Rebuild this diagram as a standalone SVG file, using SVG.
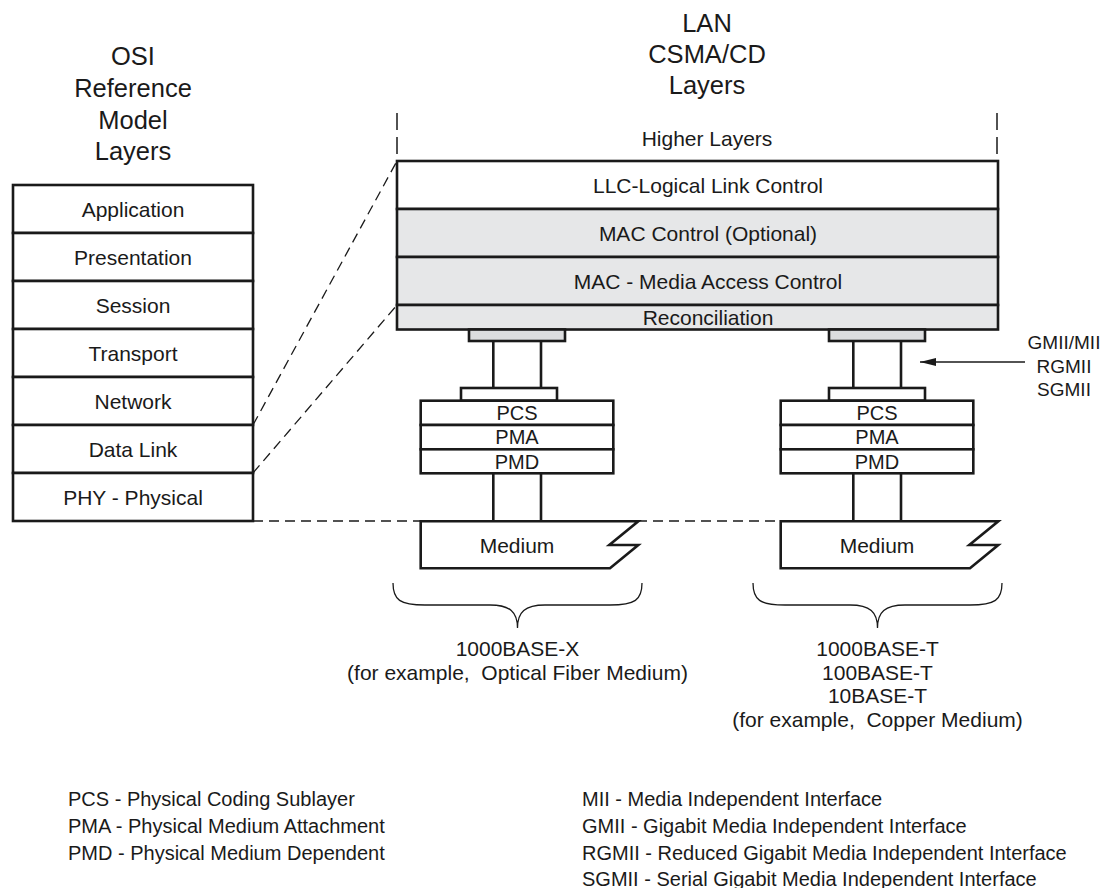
<svg xmlns="http://www.w3.org/2000/svg" width="1112" height="888" viewBox="0 0 1112 888">
<defs>
<style>
text{font-family:"Liberation Sans",Arial,Helvetica,sans-serif;fill:#1a1a1a;text-anchor:middle}
.h{font-size:25.5px}
.b{font-size:21px}
.s{font-size:20px}
.g{font-size:19px}
.l{font-size:20px;text-anchor:start}
.pre{white-space:pre}
.box{fill:#fff;stroke:#1a1a1a;stroke-width:2.6}
.gray{fill:#e6e7e8;stroke:#1a1a1a;stroke-width:2.6}
.tab{fill:#dcdddf;stroke:#1a1a1a;stroke-width:2.6}
.thick{stroke:#1a1a1a;stroke-width:2.6;fill:none}
.dash{stroke:#1a1a1a;stroke-width:1.3;fill:none;stroke-dasharray:10 6}
.vdash{stroke:#1a1a1a;stroke-width:1.5;fill:none;stroke-dasharray:17 7}
.thin{stroke:#1a1a1a;stroke-width:1.3;fill:none}
</style>
<marker id="arr" viewBox="0 0 16 8" refX="16" refY="4" markerWidth="16" markerHeight="8" markerUnits="userSpaceOnUse" orient="auto-start-reverse">
<path d="M0,0 L16,4 L0,8 Z" fill="#1a1a1a"/>
</marker>
</defs>
<rect width="1112" height="888" fill="#fff"/>

<g id="headings">
<text class="h" x="133" y="65">OSI</text>
<text class="h" x="133" y="97">Reference</text>
<text class="h" x="133" y="129">Model</text>
<text class="h" x="133" y="160">Layers</text>
<text class="h" x="707" y="32">LAN</text>
<text class="h" x="707" y="63">CSMA/CD</text>
<text class="h" x="707" y="94">Layers</text>
</g>

<g id="connectors">
<line class="dash" x1="253" y1="425" x2="397" y2="161"/>
<line class="dash" x1="253" y1="473" x2="397" y2="305"/>
<line class="dash" x1="253" y1="521" x2="781" y2="521"/>
<line class="vdash" x1="397" y1="113" x2="397" y2="161"/>
<line class="vdash" x1="997" y1="113" x2="997" y2="161"/>
<line class="thin" x1="1025" y1="362" x2="920" y2="362" marker-end="url(#arr)"/>
</g>

<g id="osi-stack">
<g id="osi-application"><rect class="box" x="13" y="185" width="240" height="48"/><text class="b" x="133" y="216.5">Application</text></g>
<g id="osi-presentation"><rect class="box" x="13" y="233" width="240" height="48"/><text class="b" x="133" y="264.5">Presentation</text></g>
<g id="osi-session"><rect class="box" x="13" y="281" width="240" height="48"/><text class="b" x="133" y="312.5">Session</text></g>
<g id="osi-transport"><rect class="box" x="13" y="329" width="240" height="48"/><text class="b" x="133" y="360.5">Transport</text></g>
<g id="osi-network"><rect class="box" x="13" y="377" width="240" height="48"/><text class="b" x="133" y="408.5">Network</text></g>
<g id="osi-datalink"><rect class="box" x="13" y="425" width="240" height="48"/><text class="b" x="133" y="456.5">Data Link</text></g>
<g id="osi-physical"><rect class="box" x="13" y="473" width="240" height="48"/><text class="b" x="133" y="504.5">PHY - Physical</text></g>
</g>

<g id="lan-stack">
<text class="b" x="707" y="146">Higher Layers</text>
<g id="llc"><rect class="box" x="397" y="161" width="601" height="48"/><text class="b" x="708" y="192.5">LLC-Logical Link Control</text></g>
<g id="mac-control"><rect class="gray" x="397" y="209" width="601" height="48"/><text class="b" x="708" y="240.5">MAC Control (Optional)</text></g>
<g id="mac"><rect class="gray" x="397" y="257" width="601" height="48"/><text class="b" x="708" y="288.5">MAC - Media Access Control</text></g>
<g id="reconciliation"><rect class="gray" x="397" y="305" width="601" height="24.5"/><text class="b" x="708" y="324.5">Reconciliation</text></g>
</g>

<g id="phy-left">
<rect class="tab" x="469" y="329.5" width="96" height="11.5"/>
<line class="thick" x1="493.3" y1="341" x2="493.3" y2="388"/>
<line class="thick" x1="541" y1="341" x2="541" y2="388"/>
<rect class="box" x="461" y="388" width="96" height="12.7"/>
<g id="pcs-left"><rect class="box" x="420.7" y="400.7" width="192.6" height="24.3"/><text class="s" x="517" y="420">PCS</text></g>
<g id="pma-left"><rect class="box" x="420.7" y="425" width="192.6" height="24.3"/><text class="s" x="517" y="444.3">PMA</text></g>
<g id="pmd-left"><rect class="box" x="420.7" y="449.3" width="192.6" height="24"/><text class="s" x="517" y="468.5">PMD</text></g>
<line class="thick" x1="493.3" y1="473.3" x2="493.3" y2="521.3"/>
<line class="thick" x1="541" y1="473.3" x2="541" y2="521.3"/>
<g id="medium-left"><path class="box" d="M420.7,521.3 L638.3,521.3 L609.3,545 L638.3,545 L610,568.3 L420.7,568.3 Z"/><text class="b" x="517" y="553">Medium</text></g>
</g>

<g id="phy-right">
<rect class="tab" x="829" y="329.5" width="96" height="11.5"/>
<line class="thick" x1="853.3" y1="341" x2="853.3" y2="388"/>
<line class="thick" x1="901" y1="341" x2="901" y2="388"/>
<rect class="box" x="829" y="388" width="96" height="12.7"/>
<g id="pcs-right"><rect class="box" x="780.7" y="400.7" width="192.6" height="24.3"/><text class="s" x="877" y="420">PCS</text></g>
<g id="pma-right"><rect class="box" x="780.7" y="425" width="192.6" height="24.3"/><text class="s" x="877" y="444.3">PMA</text></g>
<g id="pmd-right"><rect class="box" x="780.7" y="449.3" width="192.6" height="24"/><text class="s" x="877" y="468.5">PMD</text></g>
<line class="thick" x1="853.3" y1="473.3" x2="853.3" y2="521.3"/>
<line class="thick" x1="901" y1="473.3" x2="901" y2="521.3"/>
<g id="medium-right"><path class="box" d="M780.7,521.3 L998.3,521.3 L969.3,545 L998.3,545 L970,568.3 L780.7,568.3 Z"/><text class="b" x="877" y="553">Medium</text></g>
</g>

<g id="interface-label">
<text class="g" x="1064" y="349">GMII/MII</text>
<text class="g" x="1064" y="372.7">RGMII</text>
<text class="g" x="1064" y="396">SGMII</text>
</g>

<g id="brace-left">
<path class="thin" d="M393,583 C393,600 400,605 425,605 L490,605 C510,605 517.5,612 517.5,628 C517.5,612 525,605 545,605 L610,605 C635,605 642,600 642,583"/>
<text class="b" x="517.5" y="656">1000BASE-X</text>
<text class="b pre" x="517.5" y="679.5" xml:space="preserve">(for example,  Optical Fiber Medium)</text>
</g>

<g id="brace-right">
<path class="thin" d="M753,583 C753,600 760,605 785,605 L850,605 C870,605 877.5,612 877.5,628 C877.5,612 885,605 905,605 L970,605 C995,605 1002,600 1002,583"/>
<text class="b" x="877.5" y="656">1000BASE-T</text>
<text class="b" x="877.5" y="679.5">100BASE-T</text>
<text class="b" x="877.5" y="703">10BASE-T</text>
<text class="b pre" x="877.5" y="726.5" xml:space="preserve">(for example,  Copper Medium)</text>
</g>

<g id="legend-left">
<text class="l" x="68" y="806">PCS - Physical Coding Sublayer</text>
<text class="l" x="68" y="833">PMA - Physical Medium Attachment</text>
<text class="l" x="68" y="860">PMD - Physical Medium Dependent</text>
</g>

<g id="legend-right">
<text class="l" x="582" y="806">MII - Media Independent Interface</text>
<text class="l" x="582" y="833">GMII - Gigabit Media Independent Interface</text>
<text class="l" x="582" y="860">RGMII - Reduced Gigabit Media Independent Interface</text>
<text class="l" x="582" y="886">SGMII - Serial Gigabit Media Independent Interface</text>
</g>
</svg>
